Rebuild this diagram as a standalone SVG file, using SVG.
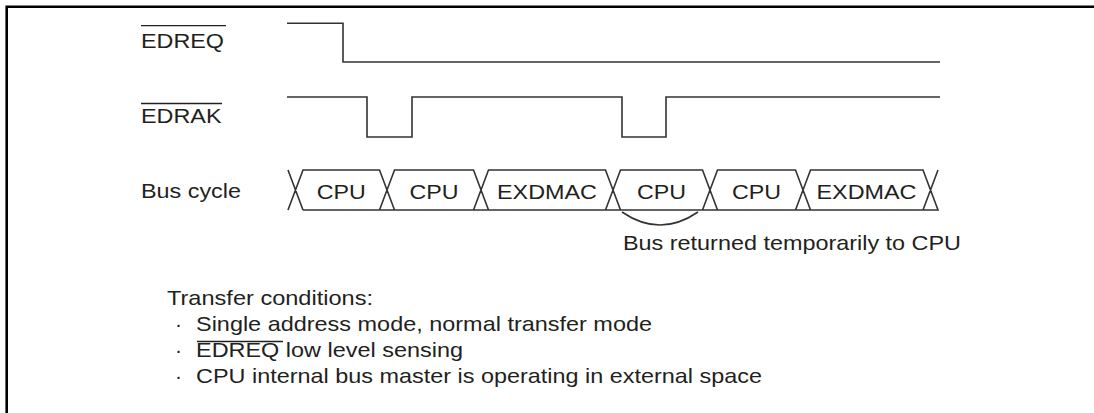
<svg xmlns="http://www.w3.org/2000/svg" width="1094" height="413" viewBox="0 0 1094 413">
<style>
.t{font-family:"Liberation Sans",Arial,sans-serif;font-size:21px;fill:#231f20}
.w{fill:none;stroke:#333;stroke-width:1.6}
.ob{stroke:#231f20;stroke-width:1.3}
.frame{fill:none;stroke:#000;stroke-width:2.6}
</style>
<rect width="1094" height="413" fill="#fff"/>
<path class="frame" d="M6.7,413 V6.7 H1094"/>
<g id="label-edreq">
<text class="t" x="141" y="48" textLength="83" lengthAdjust="spacingAndGlyphs">EDREQ</text>
<line class="ob" x1="141" y1="25.7" x2="226" y2="25.7"/>
</g>
<g id="label-edrak">
<text class="t" x="141" y="123" textLength="80.5" lengthAdjust="spacingAndGlyphs">EDRAK</text>
<line class="ob" x1="141" y1="103.5" x2="222" y2="103.5"/>
</g>
<g id="label-bus">
<text class="t" x="141" y="198" textLength="100" lengthAdjust="spacingAndGlyphs">Bus cycle</text>
</g>
<g id="wave-edreq">
<path class="w" d="M287,23.3 H343 V62 H940"/>
</g>
<g id="wave-edrak">
<path class="w" d="M287,97 H367 V137 H412 V97 H622 V137 H666 V97 H940"/>
</g>
<g id="bus-cycles">
<path class="w" d="M288,170 L303,210 M288,210 L303,170 H379.5 L394.5,210 H303 M379.5,210 L394.5,170 H473.5 L488.5,210 H394.5 M473.5,210 L488.5,170 H605.5 L620.5,210 H488.5 M605.5,210 L620.5,170 H702.5 L717.5,210 H620.5 M702.5,210 L717.5,170 H795.5 L810.5,210 H717.5 M795.5,210 L810.5,170 H923 L938,210 H810.5 M923,210 L938,170"/>
<text class="t" x="341.3" y="199" text-anchor="middle" textLength="49" lengthAdjust="spacingAndGlyphs">CPU</text>
<text class="t" x="434" y="199" text-anchor="middle" textLength="49" lengthAdjust="spacingAndGlyphs">CPU</text>
<text class="t" x="547" y="199" text-anchor="middle" textLength="100" lengthAdjust="spacingAndGlyphs">EXDMAC</text>
<text class="t" x="661.5" y="199" text-anchor="middle" textLength="49" lengthAdjust="spacingAndGlyphs">CPU</text>
<text class="t" x="756.5" y="199" text-anchor="middle" textLength="49" lengthAdjust="spacingAndGlyphs">CPU</text>
<text class="t" x="866.5" y="199" text-anchor="middle" textLength="100" lengthAdjust="spacingAndGlyphs">EXDMAC</text>
</g>
<g id="connectors">
<path class="w" d="M622,212 Q660,238 698,212" stroke-width="1.2"/>
</g>
<g id="note-return">
<text class="t" x="623" y="250" textLength="338" lengthAdjust="spacingAndGlyphs">Bus returned temporarily to CPU</text>
</g>
<g id="conditions">
<text class="t" x="167" y="305" textLength="206" lengthAdjust="spacingAndGlyphs">Transfer conditions:</text>
<text class="t" x="175" y="331">·</text>
<text class="t" x="196" y="331" textLength="456" lengthAdjust="spacingAndGlyphs">Single address mode, normal transfer mode</text>
<text class="t" x="175" y="357">·</text>
<text class="t" x="196" y="357" textLength="267" lengthAdjust="spacingAndGlyphs">EDREQ low level sensing</text>
<line class="ob" x1="197" y1="341.5" x2="283" y2="341.5"/>
<text class="t" x="175" y="383">·</text>
<text class="t" x="196" y="383" textLength="566" lengthAdjust="spacingAndGlyphs">CPU internal bus master is operating in external space</text>
</g>
</svg>
